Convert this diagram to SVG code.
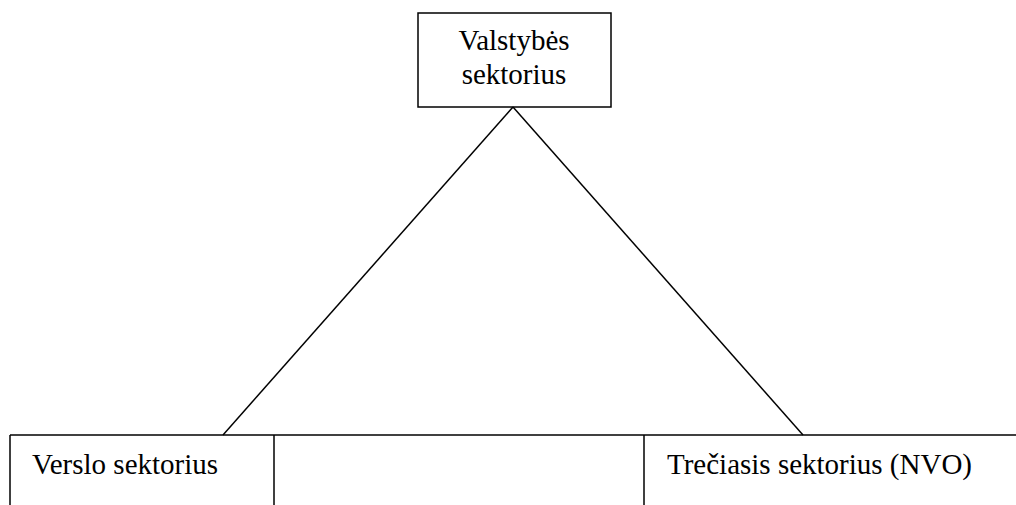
<svg xmlns="http://www.w3.org/2000/svg" width="1016" height="505" viewBox="0 0 1016 505">
  <style>
    .ln { fill: none; stroke: #000; stroke-width: 1.5; }
    .lbl { font-family: "Liberation Serif", "Times New Roman", serif; font-size: 29px; fill: #000; }
  </style>
  <rect width="1016" height="505" fill="#fff"/>
  <g id="connectors">
    <line class="ln" x1="513" y1="107" x2="223" y2="435"/>
    <line class="ln" x1="513" y1="107" x2="803" y2="435"/>
  </g>
  <g id="valstybes">
    <rect class="ln" x="418" y="13" width="193" height="94"/>
    <text class="lbl" x="514" y="50" text-anchor="middle">Valstybės</text>
    <text class="lbl" x="514" y="84" text-anchor="middle">sektorius</text>
  </g>
  <g id="base">
    <line class="ln" x1="10" y1="435" x2="1016" y2="435"/>
    <line class="ln" x1="274" y1="435" x2="274" y2="505"/>
  </g>
  <g id="verslo">
    <line class="ln" x1="10" y1="435" x2="10" y2="505"/>
    <text class="lbl" x="32" y="474">Verslo sektorius</text>
  </g>
  <g id="treciasis">
    <line class="ln" x1="644" y1="435" x2="644" y2="505"/>
    <text class="lbl" x="667" y="474">Trečiasis sektorius (NVO)</text>
  </g>
</svg>
